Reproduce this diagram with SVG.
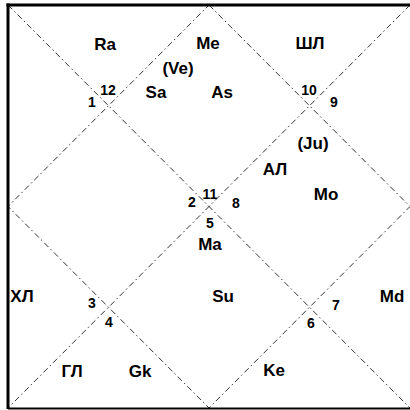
<svg xmlns="http://www.w3.org/2000/svg" width="410" height="410" viewBox="0 0 410 410">
<style>
.ln{stroke:#333;stroke-width:1;stroke-dasharray:6,3,1.5,3;fill:none}
.t{font-family:"Liberation Sans",Arial,sans-serif;font-weight:bold;font-size:17px;fill:#000;text-anchor:middle}
.n{font-family:"Liberation Sans",Arial,sans-serif;font-weight:bold;font-size:14px;fill:#000;text-anchor:middle}
</style>
<rect width="410" height="410" fill="#fff"/>
<g id="connectors">
<line class="ln" x1="8" y1="5" x2="410" y2="408"/>
<line class="ln" x1="410" y1="5" x2="8" y2="408"/>
<polygon class="ln" points="209,5 410,206.5 209,408 8,206.5"/>
</g>
<g id="frame">
<line x1="6.5" y1="5" x2="410" y2="5" stroke="#000" stroke-width="3"/>
<line x1="8" y1="3.5" x2="8" y2="409" stroke="#000" stroke-width="3"/>
<line x1="8" y1="408.5" x2="410" y2="408.5" stroke="#000" stroke-width="2"/>
</g>
<g id="h1"><text class="t" x="208" y="49">Me</text><text class="t" x="178" y="74">(Ve)</text><text class="t" x="222" y="98">As</text></g>
<g id="h2"><text class="t" x="105" y="50">Ra</text><text class="t" x="156" y="98">Sa</text></g>
<g id="h12"><text class="t" x="310" y="49">ШЛ</text></g>
<g id="h11"><text class="t" x="313" y="149">(Ju)</text><text class="t" x="275" y="175">АЛ</text><text class="t" x="326" y="200">Mo</text></g>
<g id="h4"><text class="t" x="210" y="250">Ma</text><text class="t" x="223" y="302">Su</text></g>
<g id="h3"><text class="t" x="22" y="302">ХЛ</text></g>
<g id="h10"><text class="t" x="392" y="302">Md</text></g>
<g id="h5"><text class="t" x="72" y="377">ГЛ</text><text class="t" x="140" y="377">Gk</text></g>
<g id="h7"><text class="t" x="274" y="376">Ke</text></g>
<g id="numbers">
<text class="n" x="108" y="95">12</text>
<text class="n" x="92" y="107">1</text>
<text class="n" x="309" y="95">10</text>
<text class="n" x="334" y="107">9</text>
<text class="n" x="210" y="199" font-size="17">11</text>
<text class="n" x="192" y="207">2</text>
<text class="n" x="236" y="208">8</text>
<text class="n" x="210" y="228">5</text>
<text class="n" x="92" y="308">3</text>
<text class="n" x="109" y="327">4</text>
<text class="n" x="336" y="310">7</text>
<text class="n" x="311" y="328">6</text>
</g>
</svg>
